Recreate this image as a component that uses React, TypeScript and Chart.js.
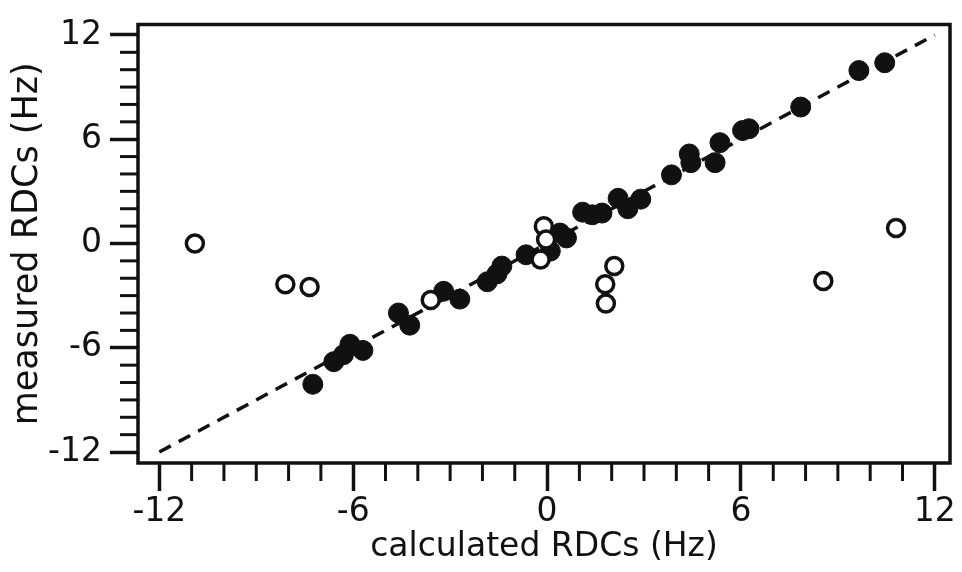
import React, { useEffect, useRef } from 'react';
import { Chart, registerables } from 'chart.js';

Chart.register(...registerables);

// Filled circles (included RDCs)
const filledX = [-7.25, -6.6, -6.3, -6.1, -5.7, -4.6, -4.25, -3.2, -2.7, -1.85, -1.55, -1.4, -0.65, 0.1, 0.4, 0.6, 1.1, 1.4, 1.7, 2.2, 2.5, 2.9, 3.85, 4.45, 4.4, 5.2, 5.35, 6.05, 6.25, 7.85, 9.65, 10.45];
const filledY = [-8.1, -6.8, -6.4, -5.8, -6.15, -4.0, -4.7, -2.75, -3.2, -2.2, -1.75, -1.3, -0.65, -0.44, 0.6, 0.32, 1.8, 1.65, 1.75, 2.6, 2.0, 2.55, 3.95, 4.65, 5.15, 4.65, 5.8, 6.5, 6.6, 7.85, 9.95, 10.4];

// Open circles (outliers)
const openX = [-10.9, -8.1, -7.35, -3.6, -0.1, -0.03, -0.2, 2.08, 1.8, 1.82, 10.8, 8.55];
const openY = [0.0, -2.35, -2.5, -3.25, 0.99, 0.23, -0.92, -1.3, -2.35, -3.45, 0.89, -2.16];

// Dashed y = x reference line
const fitX = [-12, 12];
const fitY = [-12, 12];

const majorTicks = [-12, -6, 0, 6, 12];
const X_MIN = -12.66;
const X_MAX = 12.47;
const Y_MIN = -12.63;
const Y_MAX = 12.6;
const X_TITLE = 'calculated RDCs (Hz)';
const Y_TITLE = 'measured RDCs (Hz)';

const INK = '#111';
const FONT = 'DejaVu Sans';

const isMajor = (v: number | undefined) =>
  v !== undefined && Math.abs(v - Math.round(v)) < 1e-6 && majorTicks.includes(Math.round(v));

const frameMinorPlugin = {
  id: 'frameMinor',
  afterDatasetsDraw(chart: any) {
    const { ctx, chartArea: a, scales } = chart;
    const xs = scales.x;
    const ys = scales.y;
    ctx.save();
    ctx.strokeStyle = INK;
    ctx.lineWidth = 3.5;
    ctx.strokeRect(a.left, a.top, a.right - a.left, a.bottom - a.top);
    ctx.lineWidth = 3;
    for (let v = Math.ceil(xs.min); v <= Math.floor(xs.max); v++) {
      if (isMajor(v)) continue;
      const px = xs.getPixelForValue(v);
      ctx.beginPath();
      ctx.moveTo(px, a.bottom);
      ctx.lineTo(px, a.bottom + 18);
      ctx.stroke();
    }
    for (let v = Math.ceil(ys.min); v <= Math.floor(ys.max); v++) {
      if (isMajor(v)) continue;
      const py = ys.getPixelForValue(v);
      ctx.beginPath();
      ctx.moveTo(a.left, py);
      ctx.lineTo(a.left - 18, py);
      ctx.stroke();
    }
    ctx.restore();
  },
};

export default function App() {
  const ref = useRef<HTMLCanvasElement>(null);

  useEffect(() => {
    document.body.style.margin = '0';
    const canvas = ref.current!;
    const tickCommon = {
      stepSize: 1,
      autoSkip: false,
      includeBounds: false,
      maxRotation: 0,
      minRotation: 0,
      color: INK,
      callback: (v: any) => (isMajor(Number(v)) ? String(Math.round(Number(v))) : ''),
    };
    const gridCommon = {
      drawOnChartArea: false,
      drawTicks: true,
      tickLength: 28,
      tickWidth: 3.5,
      tickColor: (c: any) => (isMajor(c.tick ? c.tick.value : undefined) ? INK : 'rgba(0,0,0,0)'),
    };
    const chart = new Chart(canvas, {
      type: 'scatter',
      data: {
        datasets: [
          {
            label: 'outliers',
            data: openX.map((x, i) => ({ x, y: openY[i] })),
            pointRadius: 8.5,
            pointBorderWidth: 3.5,
            pointBackgroundColor: '#fff',
            pointBorderColor: INK,
            order: 0,
          },
          {
            label: 'RDCs',
            data: filledX.map((x, i) => ({ x, y: filledY[i] })),
            pointRadius: 10,
            pointBorderWidth: 1,
            pointBackgroundColor: INK,
            pointBorderColor: INK,
            order: 1,
          },
          {
            label: 'y = x',
            data: fitX.map((x, i) => ({ x, y: fitY[i] })),
            showLine: true,
            borderColor: INK,
            borderWidth: 3.5,
            borderDash: [13, 9],
            pointRadius: 0,
            fill: false,
            order: 2,
          } as any,
        ],
      },
      options: {
        animation: false,
        responsive: false,
        events: [],
        layout: { padding: { top: 22, right: 10, left: 0, bottom: 0 } },
        plugins: { legend: { display: false }, tooltip: { enabled: false } },
        scales: {
          x: {
            type: 'linear',
            position: 'bottom',
            min: X_MIN,
            max: X_MAX,
            afterFit: (s: any) => {
              s.height = 109;
            },
            border: { display: false },
            grid: gridCommon as any,
            ticks: { ...tickCommon, padding: 2, font: { family: FONT, size: 33 } } as any,
            title: {
              display: true,
              text: X_TITLE,
              color: INK,
              font: { family: FONT, size: 33 },
              padding: { top: 0, bottom: 5 },
            },
          },
          y: {
            type: 'linear',
            position: 'left',
            min: Y_MIN,
            max: Y_MAX,
            afterFit: (s: any) => {
              s.width = 138;
            },
            border: { display: false },
            grid: gridCommon as any,
            ticks: { ...tickCommon, padding: 8, font: { family: FONT, size: 33, lineHeight: 1 } } as any,
            title: {
              display: true,
              text: Y_TITLE,
              color: INK,
              font: { family: FONT, size: 35 },
              padding: { top: 7, bottom: 0 },
            },
          },
        },
      },
      plugins: [frameMinorPlugin],
    });
    return () => chart.destroy();
  }, []);

  return <canvas ref={ref} width={962} height={572} style={{ display: 'block' }} />;
}
